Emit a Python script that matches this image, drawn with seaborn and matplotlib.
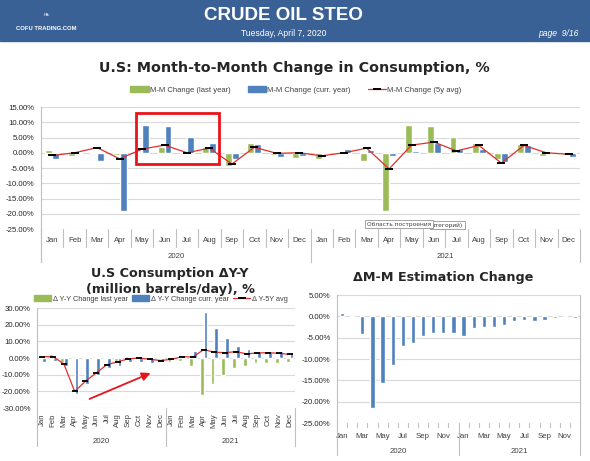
import numpy as np
import pandas as pd
import matplotlib.pyplot as plt
import seaborn as sns
from matplotlib.patches import Rectangle, Patch
from matplotlib.lines import Line2D
from matplotlib.ticker import FuncFormatter
import matplotlib.transforms as mtransforms

# ---- data ----
months = ['Jan', 'Feb', 'Mar', 'Apr', 'May', 'Jun', 'Jul', 'Aug', 'Sep', 'Oct', 'Nov', 'Dec']
years = ['2020', '2021']

# U.S month-to-month change in consumption, %
mm_last = [0.8, -1.2, 0.1, -0.8, 0.2, 1.9, 0.3, 1.8, -4.2, 3.1, -0.9, -1.6,
           -1.9, 0.0, -2.6, -19.0, 9.1, 8.8, 5.3, 3.1, -2.0, 2.8, -1.2, -0.7]
mm_curr = [-2.0, 0.1, -2.7, -19.2, 9.0, 8.7, 5.3, 3.2, -2.0, 2.8, -1.3, -1.0,
           -0.5, 1.3, 1.0, -1.0, 0.7, 3.2, 1.3, 1.2, -3.0, 2.4, -0.4, -1.3]
mm_avg = [-0.9, 0.0, 1.7, -2.0, 1.2, 2.5, 0.0, 1.5, -3.7, 1.8, -0.2, 0.0,
          -1.0, 0.0, 1.5, -5.3, 2.5, 3.5, 0.6, 2.4, -3.4, 2.4, 0.0, -0.5]

# U.S consumption year-over-year change, %
yy_last = [1.0, 2.5, -2.5, 0.3, 0.3, -0.7, 0.5, -1.5, 1.2, 0.3, 0.5, 0.6,
           -2.3, -2.0, -4.5, -22.0, -15.8, -10.0, -6.2, -4.8, -2.8, -2.8, -3.2, -2.5]
yy_curr = [-2.5, -1.8, -4.5, -21.5, -15.8, -10.0, -6.0, -4.8, -2.5, -2.5, -3.0, -2.2,
           -0.8, 0.5, 4.3, 27.5, 17.8, 11.8, 7.3, 5.5, 4.0, 3.5, 4.3, 3.8]
yy_avg = [0.8, 0.8, -3.5, -20.0, -14.0, -9.0, -4.0, -2.3, -0.5, 0.0, -0.8, -1.5,
          -0.8, 0.8, 0.6, 5.0, 3.5, 3.2, 3.8, 2.5, 3.0, 3.2, 2.8, 2.2]

# month-to-month estimation change, %
est_change = [0.8, -0.2, -4.1, -21.5, -15.6, -11.3, -6.9, -6.2, -4.5, -3.9, -3.9, -3.9,
              -4.5, -2.7, -2.4, -2.4, -2.1, -1.2, -0.9, -1.0, -0.9, -0.5, -0.2, -0.4]

GREEN = '#9bbb59'
BLUE = '#4f81bd'
RED = '#e0302b'
GRID = '#d9d9d9'
AXC = '#bfbfbf'
W, H = 590, 461

sns.set_style('white')
plt.rcParams['font.family'] = ['Liberation Sans', 'DejaVu Sans']

fig = plt.figure(figsize=(W / 100, H / 100), dpi=100)


def px_axes(left, top, right, bottom):
    return fig.add_axes([left / W, 1 - bottom / H, (right - left) / W, (bottom - top) / H])


def long_frame(last, curr):
    n = len(last)
    return pd.DataFrame({'slot': list(range(n)) * 2,
                         'value': last + curr,
                         'series': ['last'] * n + ['curr'] * n})


def style_axes(ax, ylo, yhi, step):
    ax.set_ylim(ylo, yhi)
    ax.set_xlim(-0.5, 23.5)
    ax.set_yticks(np.arange(ylo, yhi + step / 2, step))
    ax.yaxis.set_major_formatter(FuncFormatter(lambda v, p: f'{v:.2f}%'))
    ax.grid(axis='y', color=GRID, lw=0.8)
    ax.set_axisbelow(True)
    for s in ['top', 'right', 'bottom']:
        ax.spines[s].set_visible(False)
    ax.spines['left'].set_color(AXC)
    ax.spines['left'].set_linewidth(0.8)
    ax.tick_params(axis='y', labelsize=5.6, length=3, color=AXC, pad=1.5)
    ax.set_xlabel('')
    ax.set_ylabel('')


def separators(ax, depth_px, year_depth_px, height_px, every=True):
    tr = mtransforms.blended_transform_factory(ax.transData, ax.transAxes)
    for i in range(25):
        is_year = i % 12 == 0
        if not every and not is_year:
            continue
        d = (year_depth_px if is_year else depth_px) / height_px
        ax.plot([i - 0.5, i - 0.5], [0, -d], transform=tr, color=AXC, lw=0.8, clip_on=False)


def year_labels(ax, y_px, height_px):
    tr = mtransforms.blended_transform_factory(ax.transData, ax.transAxes)
    for k, yr in enumerate(years):
        ax.text(5.5 + 12 * k, -y_px / height_px, yr, transform=tr, ha='center', va='center',
                fontsize=5.6, color='#404040')


# ---- header band ----
fig.add_artist(Rectangle((0, 1 - 41 / H), 1, 41 / H, transform=fig.transFigure,
                         color='#3a6196', zorder=0))
fig.text(283 / W, 1 - 15 / H, 'CRUDE OIL STEO', ha='center', va='center', color='white',
         fontsize=13.5, fontweight='bold')
fig.text(284 / W, 1 - 33 / H, 'Tuesday, April 7, 2020', ha='center', va='center',
         color='white', fontsize=6.2)
fig.text(579 / W, 1 - 34 / H, 'page  9/16', ha='right', va='center', color='white',
         fontsize=6.2, style='italic')
fig.text(46 / W, 1 - 28 / H, 'COFU TRADING.COM', ha='center', va='center', color='white',
         fontsize=4.2, fontweight='bold')
fig.text(46 / W, 1 - 15 / H, '\u2767', ha='center', va='center', color='#c8d4e6',
         fontsize=6, family='DejaVu Sans')

# ---- top chart: month-to-month ----
ax1 = px_axes(41, 107, 580, 229)
sns.barplot(data=long_frame(mm_last, mm_curr), x='slot', y='value', hue='series',
            hue_order=['last', 'curr'], palette=[GREEN, BLUE], width=0.62, saturation=1,
            errorbar=None, legend=False, ax=ax1)
sns.lineplot(x=np.arange(24), y=mm_avg, color=RED, lw=0.9, marker='_', ms=6, mew=1.4,
             mec='black', mfc='black', ax=ax1)
style_axes(ax1, -25, 15, 5)
ax1.set_xticks(range(24))
ax1.set_xticklabels(months * 2)
ax1.tick_params(axis='x', labelsize=5.6, length=0, pad=6, colors='#404040')
separators(ax1, 18, 33, 122)
year_labels(ax1, 27, 122)
ax1.spines['left'].set_bounds(-25, 15)
ax1.plot([-0.5, -0.5], [0, -33 / 122], transform=mtransforms.blended_transform_factory(ax1.transData, ax1.transAxes),
         color=AXC, lw=0.8, clip_on=False)
ax1.add_patch(Rectangle((3.73, -3.6), 3.69, 16.6, fill=False, ec='#e8141b', lw=2.0, zorder=5))

fig.text(294 / W, 1 - 68 / H, 'U.S: Month-to-Month Change in Consumption, %', ha='center',
         va='center', fontsize=10.3, fontweight='bold', family='DejaVu Sans')
h_top = [Patch(color=GREEN), Patch(color=BLUE),
         Line2D([], [], color=RED, lw=0.9, marker='_', ms=6, mew=1.4, mec='black')]
fig.legend(h_top, ['M-M Change (last year)', 'M-M Change (curr. year)', 'M-M Change (5y avg)'],
           loc='center', bbox_to_anchor=(296 / W, 1 - 90 / H), ncol=3, frameon=False,
           fontsize=5.5, handlelength=2.4, handleheight=0.7, columnspacing=2.2,
           handletextpad=0.2, labelcolor='#404040')

# tooltip left over from the spreadsheet (one box partly hidden behind the other)
fig.text(432 / W, 1 - 225 / H, 'атегорий)', ha='left', va='center', fontsize=4.2,
         color='#404040', zorder=6, family='DejaVu Sans',
         bbox=dict(boxstyle='square,pad=0.3', fc='white', ec='#808080', lw=0.5))
fig.text(367 / W, 1 - 224 / H, 'Область построения', ha='left', va='center', fontsize=4.2,
         color='#404040', zorder=7, family='DejaVu Sans',
         bbox=dict(boxstyle='square,pad=0.3', fc='white', ec='#808080', lw=0.5))

# ---- bottom left: year-over-year ----
ax2 = px_axes(37, 308, 295, 408)
sns.barplot(data=long_frame(yy_last, yy_curr), x='slot', y='value', hue='series',
            hue_order=['last', 'curr'], palette=[GREEN, BLUE], width=0.7, saturation=1,
            errorbar=None, legend=False, ax=ax2)
sns.lineplot(x=np.arange(24), y=yy_avg, color=RED, lw=0.9, marker='_', ms=4, mew=1.3,
             mec='black', mfc='black', ax=ax2)
style_axes(ax2, -30, 30, 10)
ax2.set_xticks(range(24))
ax2.set_xticklabels(months * 2, rotation=90)
ax2.tick_params(axis='x', labelsize=5.6, length=0, pad=4, colors='#404040')
separators(ax2, 0, 38, 100, every=False)
year_labels(ax2, 33, 100)
ax2.annotate('', xy=(10.3, -8.4), xytext=(4.15, -25.2),
             arrowprops=dict(arrowstyle='-|>,head_length=0.5,head_width=0.25', color='#e8141b', lw=1.3))
fig.text(170 / W, 1 - 274 / H, 'U.S Consumption ΔY-Y', ha='center', va='center',
         fontsize=9.2, fontweight='bold', family='DejaVu Sans')
fig.text(170 / W, 1 - 289 / H, '(million barrels/day), %', ha='center', va='center',
         fontsize=9.2, fontweight='bold', family='DejaVu Sans')
fig.legend(h_top, ['Δ Y-Y Change last year', 'Δ Y-Y Change curr. year', 'Δ Y-5Y avg'],
           loc='center', bbox_to_anchor=(161 / W, 1 - 299 / H), ncol=3, frameon=False,
           fontsize=5.3, handlelength=2.3, handleheight=0.7, columnspacing=0.6,
           handletextpad=0.2, labelcolor='#404040')

# ---- bottom right: estimation change ----
ax3 = px_axes(337, 295, 580, 423)
sns.barplot(x=list(range(24)), y=est_change, color=BLUE, width=0.42, saturation=1,
            errorbar=None, ax=ax3)
style_axes(ax3, -25, 5, 5)
ax3.set_xticks(range(0, 24, 2))
ax3.set_xticklabels(months[::2] * 2)
ax3.tick_params(axis='x', labelsize=5.6, length=0, pad=7, colors='#404040')
separators(ax3, 4, 32, 128)
year_labels(ax3, 28, 128)
tr3 = mtransforms.blended_transform_factory(ax3.transData, ax3.transAxes)
ax3.plot([23.5, 23.5], [0, 1], transform=tr3, color=AXC, lw=0.8, clip_on=False)
fig.text(443 / W, 1 - 277 / H, 'ΔM-M Estimation Change', ha='center', va='center',
         fontsize=9.2, fontweight='bold', family='DejaVu Sans')

fig.savefig('out.png', dpi=100)
